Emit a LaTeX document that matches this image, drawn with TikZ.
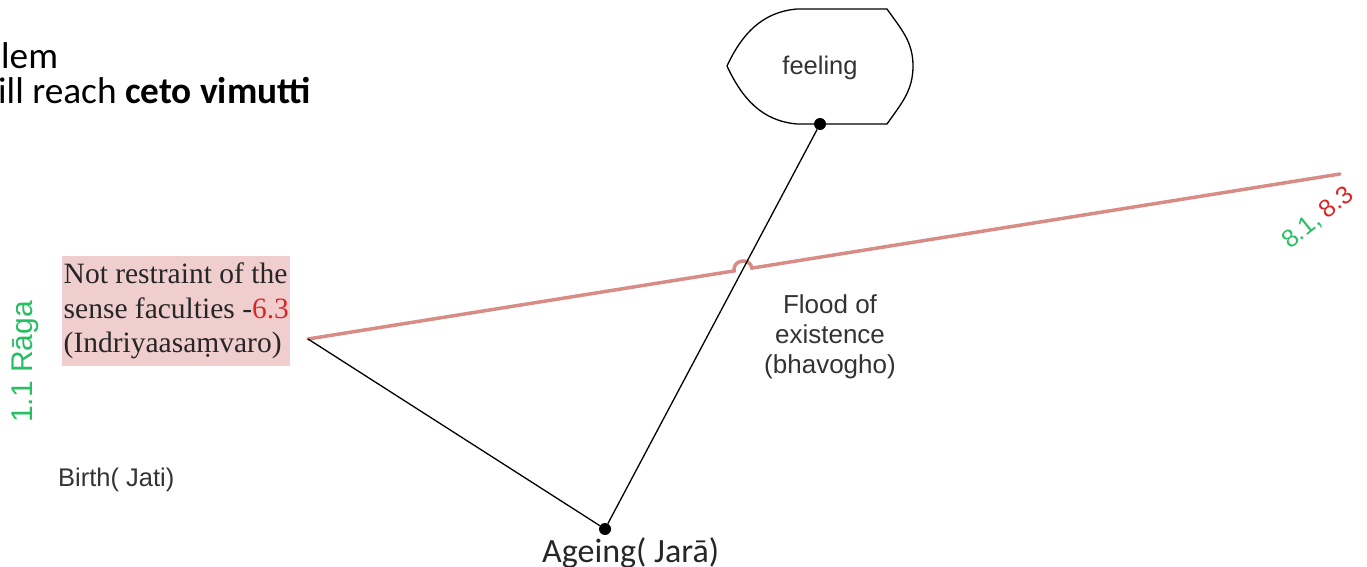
\documentclass[tikz,border=0pt]{standalone}
\usepackage{fontspec}
\setmainfont{Liberation Serif}
\newfontfamily\calfont{Carlito}
\newfontfamily\arialfont{Liberation Sans}
\definecolor{ragagreen}{RGB}{40,190,100}
\definecolor{numred}{RGB}{215,40,40}
\definecolor{linered}{RGB}{216,140,134}
\definecolor{boxpink}{RGB}{240,206,206}
\begin{document}
\begin{tikzpicture}[x=1pt,y=-1pt,
  blackline/.style={line width=1.3pt,black},
  redline/.style={line width=3.5pt,linered},
  dotmark/.style={circle,fill=black,inner sep=0pt,minimum size=12pt},
  sanslabel/.style={font=\arialfont\fontsize{26}{30}\selectfont,text=black!80,align=center,inner sep=0pt},
  calibri/.style={font=\calfont\fontsize{37.3}{40}\selectfont,inner sep=0pt,anchor=base west}]
\useasboundingbox (0,0) rectangle (1367,567);
% top-left text
\node[calibri] (t1) at (1,69) {lem};
\node[calibri] (t2) at (-2,103) {ill reach \textbf{ceto vimutti}};
% feeling shape
\draw[line width=1.3pt] (797,9) -- (887,9) to[out=-55,in=90] (913,66) to[out=-90,in=55] (887,124) -- (797,124)
  to[out=175,in=-65] (727,66) to[out=65,in=185] (797,9);
\node[sanslabel,anchor=base,font=\arialfont\fontsize{25.5}{30}\selectfont] (feel) at (820,75) {feeling};
% key points
\node[dotmark] (fdot) at (820,124) {};
\node[dotmark] (adot) at (605,529) {};
\coordinate (nr) at (308,339);
\coordinate (rend) at (1340,174);
\coordinate (hop1) at (734.1,270.9);
\coordinate (hop2) at (751.9,268.1);
% connectors
\draw[redline,line cap=round] (nr) -- (hop1) to[out=99,in=99,looseness=1.6] (hop2) -- (rend);
\draw[blackline] (fdot) -- (adot);
\draw[blackline] (nr) -- (adot);
% box
\node[fill=boxpink,anchor=north west,inner xsep=1.5pt,inner ysep=7pt,align=left,
  font=\fontsize{29.5}{34.5}\selectfont,text=black!85] (nrbox) at (62,256)
  {Not restraint of the\\sense faculties -\textcolor{numred}{6.3}\\(Indriyaasaṃvaro)};
% labels
\node[rotate=90,text=ragagreen,font=\arialfont\fontsize{30}{34}\selectfont,inner sep=0pt] (raga) at (25,362) {1.1 Rāga};
\node[rotate=39,text=ragagreen,font=\arialfont\fontsize{25}{30}\selectfont,inner sep=0pt] (eight) at (1318,218) {8.1, \textcolor{numred}{8.3}};
\node[sanslabel] (flood) at (830,337) {Flood of\\existence\\(bhavogho)};
\node[sanslabel,anchor=base west,font=\arialfont\fontsize{25.5}{30}\selectfont] (birth) at (58,486) {Birth( Jati)};
\node[calibri,font=\calfont\fontsize{34}{40}\selectfont,text=black!85] (age) at (542,562) {Ageing( Jarā)};
\end{tikzpicture}
\end{document}
